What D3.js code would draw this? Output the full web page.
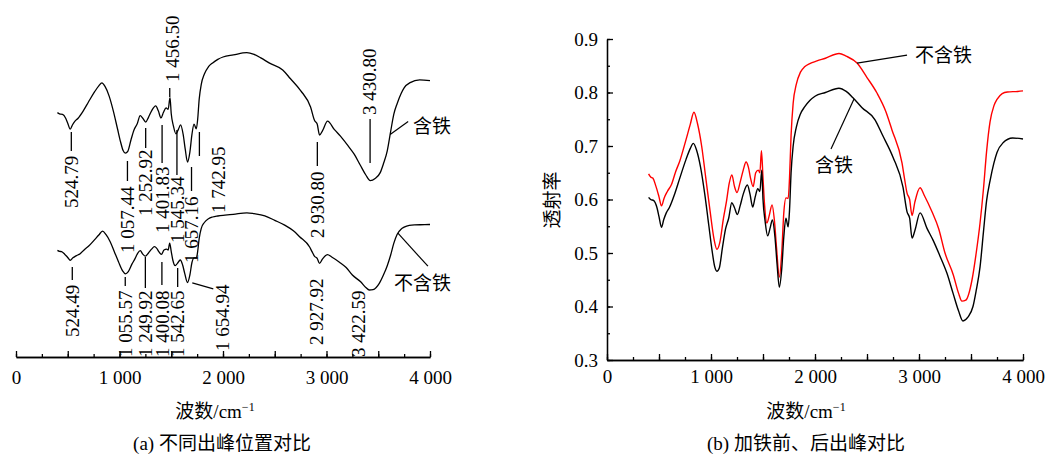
<!DOCTYPE html>
<html>
<head>
<meta charset="utf-8">
<script src="https://cdn.jsdelivr.net/npm/d3@7"></script>
<style>
body { margin: 0; background: #fff; }
svg text { font-family: "Liberation Serif", "Times New Roman", "Noto Sans CJK SC", serif; font-size: 19px; fill: #000; }
</style>
</head>
<body>
<script>
// wavenumber (cm-1) and transmittance
var wnIron = [400, 420, 450, 480, 500, 524, 545, 570, 600, 650, 700, 760, 800, 830, 860, 900, 940, 980, 1010, 1035, 1057, 1080, 1110, 1140, 1170, 1200, 1225, 1253, 1280, 1310, 1350, 1375, 1401, 1425, 1450, 1470, 1488, 1500, 1520, 1545, 1570, 1590, 1615, 1635, 1657, 1680, 1700, 1720, 1742, 1755, 1770, 1790, 1820, 1860, 1900, 1950, 2000, 2100, 2230, 2300, 2365, 2450, 2577, 2650, 2750, 2846, 2885, 2910, 2933, 2962, 3010, 3077, 3135, 3200, 3269, 3327, 3380, 3423, 3470, 3519, 3550, 3587, 3620, 3650, 3683, 3720, 3750, 3808, 3900, 4000];
var tIron = [0.604, 0.600, 0.598, 0.585, 0.568, 0.548, 0.562, 0.575, 0.585, 0.610, 0.640, 0.675, 0.695, 0.705, 0.693, 0.660, 0.610, 0.550, 0.505, 0.475, 0.466, 0.472, 0.510, 0.545, 0.565, 0.594, 0.585, 0.572, 0.588, 0.610, 0.627, 0.610, 0.586, 0.605, 0.620, 0.615, 0.655, 0.600, 0.560, 0.532, 0.548, 0.562, 0.530, 0.480, 0.436, 0.470, 0.530, 0.565, 0.549, 0.580, 0.650, 0.700, 0.735, 0.760, 0.773, 0.785, 0.793, 0.800, 0.808, 0.802, 0.790, 0.772, 0.749, 0.720, 0.679, 0.623, 0.577, 0.565, 0.528, 0.543, 0.575, 0.546, 0.524, 0.495, 0.462, 0.425, 0.392, 0.373, 0.380, 0.400, 0.430, 0.474, 0.540, 0.598, 0.635, 0.668, 0.688, 0.706, 0.715, 0.713];

var wnNoIron = [400, 420, 440, 470, 500, 524, 550, 580, 620, 660, 700, 760, 800, 836, 870, 910, 950, 990, 1030, 1057, 1085, 1120, 1150, 1175, 1201, 1225, 1250, 1280, 1310, 1337, 1360, 1380, 1405, 1430, 1455, 1470, 1485, 1500, 1515, 1538, 1560, 1587, 1610, 1630, 1657, 1680, 1700, 1721, 1742, 1755, 1770, 1790, 1820, 1860, 1900, 1950, 2019, 2100, 2231, 2300, 2404, 2500, 2596, 2680, 2740, 2837, 2860, 2885, 2910, 2933, 2960, 3010, 3050, 3125, 3190, 3250, 3330, 3380, 3413, 3450, 3510, 3550, 3587, 3620, 3650, 3683, 3720, 3750, 3800, 3850, 3950, 4000];
var tNoIron = [0.648, 0.642, 0.640, 0.625, 0.605, 0.588, 0.603, 0.615, 0.628, 0.652, 0.672, 0.712, 0.740, 0.763, 0.742, 0.700, 0.640, 0.580, 0.525, 0.507, 0.520, 0.565, 0.598, 0.630, 0.646, 0.625, 0.613, 0.632, 0.655, 0.670, 0.660, 0.640, 0.624, 0.650, 0.655, 0.650, 0.691, 0.640, 0.590, 0.556, 0.570, 0.590, 0.560, 0.510, 0.455, 0.500, 0.575, 0.603, 0.602, 0.640, 0.720, 0.780, 0.815, 0.838, 0.848, 0.854, 0.859, 0.864, 0.873, 0.868, 0.855, 0.828, 0.799, 0.765, 0.730, 0.668, 0.640, 0.612, 0.600, 0.570, 0.595, 0.622, 0.608, 0.577, 0.545, 0.500, 0.459, 0.425, 0.410, 0.412, 0.450, 0.500, 0.556, 0.620, 0.690, 0.745, 0.775, 0.787, 0.798, 0.801, 0.802, 0.803];

// peak positions labelled in panel (a)
var ironPeaks = [524.79, 1057.44, 1252.92, 1401.83, 1456.50, 1545.34, 1657.16, 1742.95, 2930.80, 3430.80];
var noIronPeaks = [524.49, 1055.57, 1249.92, 1400.08, 1542.65, 1654.94, 2927.92, 3422.59];

var xTickLabels = [0, 1000, 2000, 3000, 4000];
var yTickLabels = [0.3, 0.4, 0.5, 0.6, 0.7, 0.8, 0.9];
var seriesNames = ["含铁", "不含铁"];

// label placement for panel (a): text x offset, text bottom y, leader line [dx, y1, y2]
var ironLabelPos = [
    {dx: 1, y: 208, line: [1, 132, 151]},
    {dx: 2, y: 253, line: [2, 161, 181]},
    {dx: 0, y: 216, line: [0, 128, 148]},
    {dx: 1, y: 233, line: [1, 125, 163]},
    {dx: 6, y: 82, line: [3, 88, 97]},
    {dx: 1, y: 243, line: [1, 130, 175]},
    {dx: 4, y: 263, line: [4, 167, 191]},
    {dx: 22, y: 213, line: [3, 132, 156]},
    {dx: -2, y: 238, line: [-2, 142, 166]},
    {dx: -2, y: 115, line: [-1, 119, 163]}
];
var noIronLabelPos = [
    {dx: 2, y: 337, line: [2, 267, 280]},
    {dx: 0, y: 357, line: [0, 277, 286]},
    {dx: 0, y: 357, line: [0, 257, 288]},
    {dx: 1, y: 357, line: [1, 262, 285]},
    {dx: 2, y: 357, line: [2, 268, 287]},
    {dx: 35, y: 351, line: null},
    {dx: -3, y: 345, line: null},
    {dx: -12, y: 357, line: null}
];

var iron = wnIron.map(function (d, i) { return [d, tIron[i]]; });
var noIron = wnNoIron.map(function (d, i) { return [d, tNoIron[i]]; });

var fmtLocale = d3.formatLocale({decimal: ".", thousands: " ", grouping: [3], currency: ["", ""]});
var fmtInt = fmtLocale.format(",");
var fmtPeak = fmtLocale.format(",.2f");

function interp(series, v) {
    var i = d3.bisector(function (d) { return d[0]; }).left(series, v);
    if (i <= 0) return series[0][1];
    if (i >= series.length) return series[series.length - 1][1];
    var a = series[i - 1], b = series[i];
    return a[1] + (b[1] - a[1]) * (v - a[0]) / (b[0] - a[0]);
}

var svg = d3.select("body").append("svg").attr("width", 1045).attr("height", 455);

// ---------- panel (a) ----------
var xA = d3.scaleLinear().domain([0, 4000]).range([16, 430]);
var yIronA = d3.scaleLinear().domain([0.375, 0.81]).range([180, 52]);
var yNoIronA = d3.scaleLinear().domain([0.41, 0.872]).range([290, 213]);
var axisYA = 357;

function drawXAxis(g, x, y, pad) {
    var minor = d3.range(0, 4001, 250);
    var major = d3.range(0, 4001, 500);
    g.append("g").attr("transform", "translate(0," + y + ")")
        .call(d3.axisBottom(x).tickValues(minor).tickSizeInner(-3).tickSizeOuter(0).tickFormat(""))
        .call(function (s) { s.selectAll("line, path").attr("stroke-width", 1.3); });
    g.append("g").attr("transform", "translate(0," + y + ")")
        .call(d3.axisBottom(x).tickValues(major).tickSizeInner(-6).tickSizeOuter(0).tickPadding(pad)
            .tickFormat(function (d) { return xTickLabels.indexOf(d) >= 0 ? fmtInt(d) : ""; }))
        .call(function (s) {
            s.attr("font-size", null).attr("font-family", null);
            s.selectAll("line, path").attr("stroke-width", 1.3);
        });
}

var gA = svg.append("g");
drawXAxis(gA, xA, axisYA, 14);

var lineIronA = d3.line().x(function (d) { return xA(d[0]); }).y(function (d) { return yIronA(d[1]); }).curve(d3.curveMonotoneX);
var lineNoIronA = d3.line().x(function (d) { return xA(d[0]); }).y(function (d) { return yNoIronA(d[1]); }).curve(d3.curveMonotoneX);

gA.append("path").attr("d", lineIronA(iron)).attr("fill", "none").attr("stroke", "#000").attr("stroke-width", 1.3);
gA.append("path").attr("d", lineNoIronA(noIron)).attr("fill", "none").attr("stroke", "#000").attr("stroke-width", 1.3);

function peakLabels(peaks, pos) {
    peaks.forEach(function (v, i) {
        var p = pos[i];
        var cx = xA(v) + p.dx;
        gA.append("text")
            .attr("transform", "translate(" + cx + "," + p.y + ") rotate(-90)")
            .attr("dy", "0.35em")
            .text(fmtPeak(v));
        if (p.line) {
            gA.append("line")
                .attr("x1", xA(v) + p.line[0]).attr("x2", xA(v) + p.line[0])
                .attr("y1", p.line[1]).attr("y2", p.line[2])
                .attr("stroke", "#000").attr("stroke-width", 1.3);
        }
    });
}
peakLabels(ironPeaks, ironLabelPos);
peakLabels(noIronPeaks, noIronLabelPos);

// diagonal leader for 1 654.94
var lv = noIronPeaks[5];
var lx = xA(lv) + 5, ly = yNoIronA(interp(noIron, lv)) + 1;
gA.append("line").attr("x1", lx).attr("y1", ly).attr("x2", lx + 21).attr("y2", ly + 6)
    .attr("stroke", "#000").attr("stroke-width", 1.2);

// series annotations
var ax1 = xA(3615), ay1 = yIronA(interp(iron, 3615));
gA.append("line").attr("x1", ax1).attr("y1", ay1).attr("x2", ax1 + 18).attr("y2", ay1 - 13)
    .attr("stroke", "#000").attr("stroke-width", 1.2);
gA.append("text").attr("x", 413).attr("y", 133).text(seriesNames[0]);

var ax2 = xA(3690), ay2 = yNoIronA(interp(noIron, 3690));
gA.append("line").attr("x1", ax2).attr("y1", ay2).attr("x2", ax2 + 30).attr("y2", ay2 + 33)
    .attr("stroke", "#000").attr("stroke-width", 1.2);
gA.append("text").attr("x", 394).attr("y", 290).text(seriesNames[1]);

function axisTitle(g, cx, y) {
    var t = g.append("text").attr("x", cx).attr("y", y).attr("text-anchor", "middle");
    t.append("tspan").text("波数/cm");
    t.append("tspan").attr("dy", -7).attr("font-size", 12).text("−1");
}
axisTitle(gA, 215, 418);
gA.append("text").attr("x", 222).attr("y", 450).attr("text-anchor", "middle").text("(a) 不同出峰位置对比");

// ---------- panel (b) ----------
var xB = d3.scaleLinear().domain([0, 4000]).range([607, 1023]);
var yB = d3.scaleLinear().domain([0.3, 0.9]).range([360, 39]);
var gB = svg.append("g");

drawXAxis(gB, xB, 360, 10);

gB.append("g").attr("transform", "translate(607,0)")
    .call(d3.axisLeft(yB).tickValues(d3.range(0.3, 0.9001, 0.05)).tickSizeInner(-3).tickSizeOuter(0).tickFormat(""))
    .call(function (s) { s.selectAll("line, path").attr("stroke-width", 1.3); });
gB.append("g").attr("transform", "translate(607,0)")
    .call(d3.axisLeft(yB).tickValues(yTickLabels).tickSizeInner(-6).tickSizeOuter(0).tickPadding(9).tickFormat(d3.format(".1f")))
    .call(function (s) {
        s.attr("font-size", null).attr("font-family", null);
        s.selectAll("line, path").attr("stroke-width", 1.3);
    });

var lineB = d3.line().x(function (d) { return xB(d[0]); }).y(function (d) { return yB(d[1]); }).curve(d3.curveMonotoneX);
gB.append("path").attr("d", lineB(noIron)).attr("fill", "none").attr("stroke", "#ff0000").attr("stroke-width", 1.4);
gB.append("path").attr("d", lineB(iron)).attr("fill", "none").attr("stroke", "#000").attr("stroke-width", 1.4);

var bx1 = xB(2404), by1 = yB(interp(noIron, 2404));
gB.append("line").attr("x1", bx1).attr("y1", by1).attr("x2", bx1 + 50).attr("y2", by1 - 8)
    .attr("stroke", "#000").attr("stroke-width", 1.2);
gB.append("text").attr("x", 915).attr("y", 62).text(seriesNames[1]);

var bx2 = xB(2375), by2 = yB(interp(iron, 2375));
gB.append("line").attr("x1", bx2).attr("y1", by2).attr("x2", bx2 - 23).attr("y2", by2 + 50)
    .attr("stroke", "#000").attr("stroke-width", 1.2);
gB.append("text").attr("x", 815).attr("y", 172).text(seriesNames[0]);

gB.append("text").attr("transform", "translate(552,200) rotate(-90)").attr("text-anchor", "middle")
    .attr("dy", "0.35em").text("透射率");

axisTitle(gB, 806, 418);
gB.append("text").attr("x", 806).attr("y", 450).attr("text-anchor", "middle").text("(b) 加铁前、后出峰对比");
</script>
</body>
</html>
